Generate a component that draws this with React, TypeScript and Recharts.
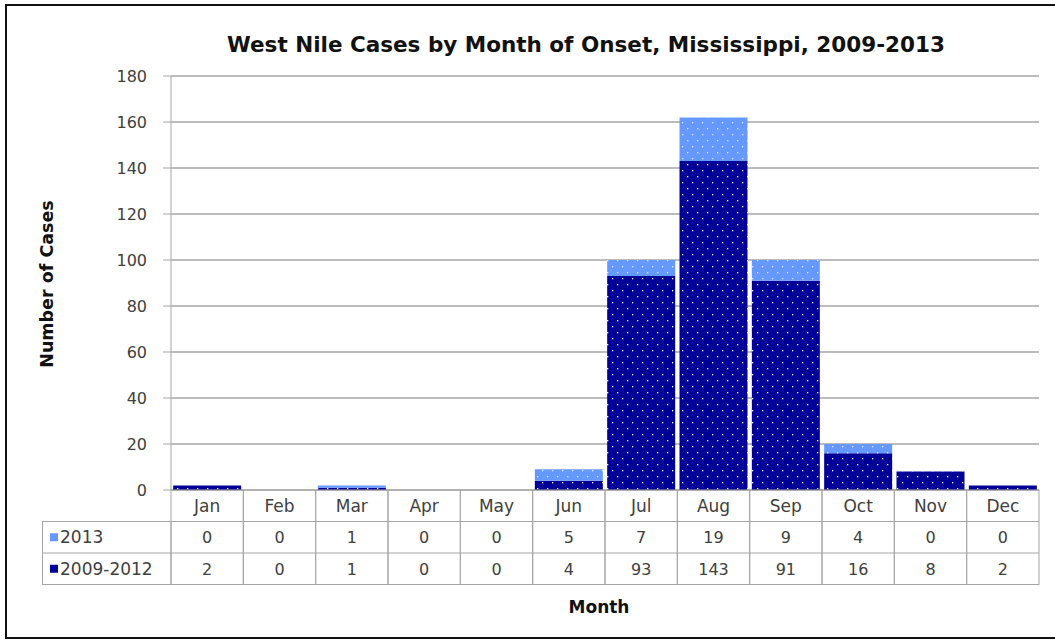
import React from 'react';
import { BarChart, Bar, XAxis, YAxis, CartesianGrid } from 'recharts';

const months = ['Jan', 'Feb', 'Mar', 'Apr', 'May', 'Jun', 'Jul', 'Aug', 'Sep', 'Oct', 'Nov', 'Dec'];
const cases2013 = [0, 0, 1, 0, 0, 5, 7, 19, 9, 4, 0, 0];
const cases2009to2012 = [2, 0, 1, 0, 0, 4, 93, 143, 91, 16, 8, 2];
const yTicks = [0, 20, 40, 60, 80, 100, 120, 140, 160, 180];
const seriesNames = ['2013', '2009-2012'];

const data = months.map((m, i) => ({ month: m, early: cases2009to2012[i], late: cases2013[i] }));

const W = 1055;
const H = 640;
const PLOT_LEFT = 171;
const PLOT_RIGHT = 1039;
const PLOT_TOP = 76;
const PLOT_BOTTOM = 490;
const BAND = (PLOT_RIGHT - PLOT_LEFT) / months.length;
const ROW_H = 31.5;
const LEGEND_LEFT = 42.5;

const FONT = '"DejaVu Sans", sans-serif';
const TEXT = '#404040';
const LINE = '#a6a6a6';
const DARK = '#000099';
const LIGHT = '#6699ff';

const TableTick = (props: any) => {
  const { x, y, payload } = props;
  const i = payload.index;
  const left = x - BAND / 2;
  const cells = [months[i], String(cases2013[i]), String(cases2009to2012[i])];
  return (
    <g>
      <rect x={left} y={y} width={BAND} height={ROW_H * 3} fill="none" stroke={LINE} strokeWidth={1} />
      <line x1={left} x2={left + BAND} y1={y + ROW_H} y2={y + ROW_H} stroke={LINE} />
      <line x1={left} x2={left + BAND} y1={y + ROW_H * 2} y2={y + ROW_H * 2} stroke={LINE} />
      {cells.map((c, k) => (
        <text key={k} x={x} y={y + ROW_H * k + ROW_H / 2 + 6} textAnchor="middle" fontFamily={FONT} fontSize={k === 0 ? 17 : 16} fill={TEXT}>
          {c}
        </text>
      ))}
      {i === 0 && (
        <g>
          <rect x={LEGEND_LEFT} y={y + ROW_H} width={left - LEGEND_LEFT} height={ROW_H * 2} fill="none" stroke={LINE} />
          <line x1={LEGEND_LEFT} x2={left} y1={y + ROW_H * 2} y2={y + ROW_H * 2} stroke={LINE} />
          <rect x={50} y={y + ROW_H * 1.5 - 4} width={8} height={8} fill={LIGHT} />
          <rect x={50} y={y + ROW_H * 2.5 - 4} width={8} height={8} fill={DARK} />
          <text x={60} y={y + ROW_H * 1.5 + 6} fontFamily={FONT} fontSize={17} fill={TEXT}>{seriesNames[0]}</text>
          <text x={60} y={y + ROW_H * 2.5 + 6} fontFamily={FONT} fontSize={17} fill={TEXT}>{seriesNames[1]}</text>
        </g>
      )}
    </g>
  );
};

export default function App() {
  return (
    <div style={{ position: 'absolute', left: 0, top: 0, width: W, height: H, background: '#fff' }}>
      <div style={{ position: 'absolute', left: 5, top: 4, width: W + 10, height: 635, border: '2px solid #111', boxSizing: 'border-box' }} />
      <div style={{ position: 'absolute', left: 0, top: 0 }}>
        <BarChart
          width={W}
          height={H}
          data={data}
          margin={{ top: PLOT_TOP, right: W - PLOT_RIGHT, bottom: H - PLOT_BOTTOM - 95, left: PLOT_LEFT - 60 }}
          barCategoryGap="3%"
        >
          <defs>
            <pattern id="darkDots" patternUnits="userSpaceOnUse" width={10} height={12}>
              <rect x={0} y={0} width={10} height={12} fill={DARK} />
              <rect x={2} y={2} width={1.3} height={1.3} fill="#ffffff" />
              <rect x={7} y={8} width={1.3} height={1.3} fill="#ffffff" />
            </pattern>
            <pattern id="lightDots" patternUnits="userSpaceOnUse" width={10} height={12}>
              <rect x={0} y={0} width={10} height={12} fill={LIGHT} />
              <rect x={2} y={2} width={1.3} height={1.3} fill="#dde8ff" />
              <rect x={7} y={8} width={1.3} height={1.3} fill="#dde8ff" />
            </pattern>
          </defs>
          <CartesianGrid vertical={false} stroke={LINE} strokeWidth={1.5} />
          <XAxis
            dataKey="month"
            height={95}
            axisLine={false}
            tickLine={false}
            tickSize={0}
            tickMargin={0}
            interval={0}
            tick={<TableTick />}
          />
          <YAxis
            width={60}
            domain={[0, 180]}
            ticks={yTicks}
            interval={0}
            stroke={LINE}
            tickSize={8}
            tickMargin={16}
            tick={{ fontFamily: FONT, fontSize: 16, fill: TEXT }}
          />
          <YAxis yAxisId="r" orientation="right" width={0} tick={false} tickLine={false} stroke={LINE} />
          <Bar dataKey="early" stackId="s" fill="url(#darkDots)" isAnimationActive={false} />
          <Bar dataKey="late" stackId="s" fill="url(#lightDots)" isAnimationActive={false} />
          <text x={586} y={52} textAnchor="middle" fontFamily={FONT} fontWeight="bold" fontSize={21.5} fill="#111">
            West Nile Cases by Month of Onset, Mississippi, 2009-2013
          </text>
          <text x={0} y={0} transform="translate(53,284) rotate(-90)" textAnchor="middle" fontFamily={FONT} fontWeight="bold" fontSize={17.5} fill="#111">
            Number of Cases
          </text>
          <text x={599} y={613} textAnchor="middle" fontFamily={FONT} fontWeight="bold" fontSize={17} fill="#111">
            Month
          </text>
        </BarChart>
      </div>
    </div>
  );
}
